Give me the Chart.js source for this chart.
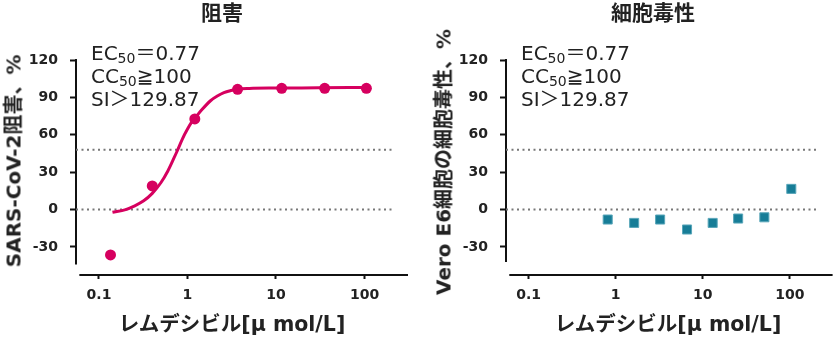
<!DOCTYPE html>
<html lang="ja">
<head>
<meta charset="utf-8">
<title>レムデシビル 阻害・細胞毒性</title>
<script src="https://cdn.jsdelivr.net/npm/chart.js@4/dist/chart.umd.min.js"></script>
<style>
  body { margin: 0; background: #fff; }
  #wrap { position: relative; width: 840px; height: 337px; overflow: hidden;
          font-family: 'DejaVu Sans', 'Noto Sans CJK JP', sans-serif; color: #222; }
  canvas { position: absolute; top: 0; }
  .title { position: absolute; top: -4px; font-size: 21px; font-weight: bold; text-align: center; white-space: nowrap; }
  .ytitle { position: absolute; font-size: 20px; font-weight: bold; white-space: nowrap;
            transform: translate(-50%, -50%) rotate(-90deg); }
  .xtitle { position: absolute; top: 307px; font-size: 20.5px; font-weight: bold; white-space: nowrap;
            transform: translateX(-50%); }
  .stats { position: absolute; top: 42px; font-size: 20px; line-height: 23px; white-space: nowrap; }
  .stats sub { font-size: 14px; line-height: 0; vertical-align: -3px; }
</style>
</head>
<body>
<div id="wrap">
  <canvas id="inhibition" width="420" height="337" style="left:0"></canvas>
  <canvas id="toxicity" width="420" height="337" style="left:420px"></canvas>

  <div class="title" style="left:0;width:444px">阻害</div>
  <div class="title" style="left:420px;width:466px">細胞毒性</div>

  <div class="ytitle" style="left:12px;top:161px">SARS-CoV-2阻害、%</div>
  <div class="ytitle" style="left:442px;top:162px">Vero E6細胞の細胞毒性、%</div>

  <div class="xtitle" style="left:232px">レムデシビル[μ mol/L]</div>
  <div class="xtitle" style="left:668px">レムデシビル[μ mol/L]</div>

  <div class="stats" style="left:91px">EC<sub>50</sub>＝0.77<br>CC<sub>50</sub>≧100<br>SI＞129.87</div>
  <div class="stats" style="left:521px">EC<sub>50</sub>＝0.77<br>CC<sub>50</sub>≧100<br>SI＞129.87</div>
</div>

<script>
// ---- data ----
// inhibition assay (3-fold dilutions), % inhibition
const inhibitionConc = [0.135, 0.4, 1.21, 3.68, 11.6, 35.5, 105];
const inhibitionPct  = [-36.4, 19.0, 72.7, 96.5, 97.3, 97.3, 97.3];

// fitted dose-response curve, sampled along its path
const fitConc = [0.142, 0.2, 0.25, 0.32, 0.4, 0.5, 0.6, 0.7, 0.776, 0.88, 0.99, 1.1, 1.23,
                 1.45, 1.82, 2.2, 2.58, 3.1, 3.66, 5, 10, 30, 106];
const fitPct  = [-2.2, 0.0, 2.8, 7.0, 13.0, 21.5, 31.0, 41.0, 48.0, 57.0, 64.0, 69.5, 73.8,
                 80.0, 87.3, 91.3, 93.8, 95.5, 96.6, 97.2, 97.5, 97.7, 98.0];

// cytotoxicity assay (2-fold dilutions), % cytotoxicity
const toxConc = [0.81, 1.63, 3.24, 6.6, 13.0, 25.5, 51.0, 104];
const toxPct  = [-8.0, -10.7, -8.0, -16.0, -10.7, -7.2, -6.2, 16.6];

// dotted reference levels
const refLevels = [48, 0];

const xTicks = [0.1, 1, 10, 100];
const yTicks = [-30, 0, 30, 60, 90, 120];

// ---- look ----
const FONT = "'DejaVu Sans', 'Noto Sans CJK JP', sans-serif";
const INK = '#222';
const MAGENTA = '#d6005f';
const TEAL = '#177d97';

const X_MIN = 0.055, X_MAX = 310;
const Y_MIN = -52.5, Y_MAX = 120;
const REF_END = 205;

Chart.defaults.font.family = FONT;
Chart.defaults.color = INK;

const toPoints = (xs, ys) => xs.map((x, i) => ({ x, y: ys[i] }));

// Prism-style detached axis lines
const axisLines = {
  id: 'axisLines',
  beforeDatasetsDraw(chart, args, opts) {
    const { ctx, chartArea, scales: { x, y } } = chart;
    ctx.save();
    ctx.strokeStyle = '#111';
    ctx.lineWidth = 2;
    ctx.beginPath();
    ctx.moveTo(chartArea.left, y.getPixelForValue(Y_MAX) - 1);
    ctx.lineTo(chartArea.left, y.getPixelForValue(opts.yEnd));
    ctx.moveTo(x.getPixelForValue(opts.xStart), chartArea.bottom);
    ctx.lineTo(chartArea.right, chartArea.bottom);
    ctx.stroke();
    ctx.restore();
  }
};

function refDatasets() {
  return refLevels.map(level => ({
    type: 'line',
    data: [{ x: X_MIN, y: level }, { x: REF_END, y: level }],
    borderColor: '#777',
    borderWidth: 2,
    borderDash: [2, 3.5],
    pointRadius: 0,
    order: 3
  }));
}

function makeChart(id, datasets, pad, yEnd) {
  return new Chart(document.getElementById(id), {
    type: 'scatter',
    data: { datasets },
    plugins: [axisLines],
    options: {
      responsive: false,
      animation: false,
      layout: { padding: pad },
      plugins: {
        legend: { display: false },
        tooltip: { enabled: false },
        axisLines: { yEnd, xStart: 0.06 }
      },
      scales: {
        x: {
          type: 'logarithmic',
          min: X_MIN,
          max: X_MAX,
          afterFit: s => { s.height = 40; },
          afterBuildTicks: s => { s.ticks = xTicks.map(v => ({ value: v })); },
          border: { display: false },
          grid: { drawOnChartArea: false, tickLength: 4, tickWidth: 2, tickColor: '#111' },
          ticks: {
            padding: 8,
            maxRotation: 0,
            font: { size: 14, weight: 'bold' },
            callback: v => String(v)
          }
        },
        y: {
          min: Y_MIN,
          max: Y_MAX,
          afterFit: s => { s.width = 50; },
          afterBuildTicks: s => { s.ticks = yTicks.map(v => ({ value: v })); },
          border: { display: false },
          grid: { drawOnChartArea: false, tickLength: 6, tickWidth: 2, tickColor: '#111' },
          ticks: {
            padding: 12,
            font: { size: 14, weight: 'bold' }
          }
        }
      }
    }
  });
}

makeChart('inhibition', [
  {
    type: 'line',
    data: toPoints(fitConc, fitPct),
    borderColor: MAGENTA,
    borderWidth: 3,
    cubicInterpolationMode: 'monotone',
    pointRadius: 0,
    order: 2
  },
  {
    data: toPoints(inhibitionConc, inhibitionPct),
    backgroundColor: MAGENTA,
    borderColor: MAGENTA,
    borderWidth: 0,
    pointRadius: 5.5,
    order: 1
  },
  ...refDatasets()
], { top: 60, right: 12, bottom: 22, left: 26 }, -44);

makeChart('toxicity', [
  {
    data: toPoints(toxConc, toxPct),
    backgroundColor: TEAL,
    borderColor: '#5aa7ba',
    borderWidth: 1,
    pointStyle: 'rect',
    pointRadius: 6.4,
    order: 1
  },
  ...refDatasets()
], { top: 60, right: 2, bottom: 22, left: 36 }, -42);
</script>
</body>
</html>
